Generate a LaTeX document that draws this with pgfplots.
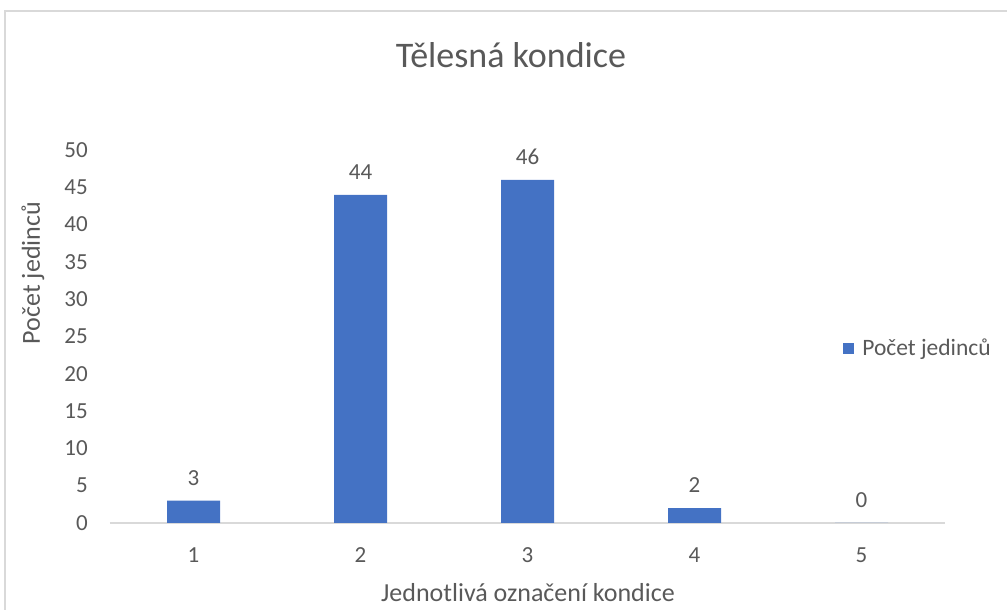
\documentclass[border=0pt]{standalone}
\usepackage{pgfplots}
\pgfplotsset{compat=1.18}
\usepackage{fontspec}
\setmainfont{Carlito}
\definecolor{barblue}{HTML}{4472C4}
\definecolor{txtgray}{HTML}{595959}
\definecolor{linegray}{HTML}{D9D9D9}
\begin{document}
\begin{tikzpicture}[x=1pt,y=1pt]
\useasboundingbox (0,0) rectangle (1007,610);
\draw[linegray, line width=2pt] (5,-5) -- (5,599) -- (1012,599);
\begin{axis}[
  at={(110pt,87pt)}, anchor=south west,
  scale only axis, width=835pt, height=373pt,
  xmin=0.5, xmax=5.5, ymin=0, ymax=50,
  xtick={1,2,3,4,5}, ytick={0,5,...,50},
  axis x line*=bottom, axis y line*=left,
  x axis line style={draw=linegray, line width=1.5pt, -},
  y axis line style={draw=none},
  major tick length=0pt,
  tick label style={font=\fontsize{23}{28}\selectfont, text=txtgray},
  /pgf/number format/assume math mode=true,
  xticklabel style={anchor=center, yshift=-32pt},
  yticklabel style={anchor=east, inner sep=0pt, xshift=-22pt},
  ybar, bar width=53pt, bar shift=0pt,
  nodes near coords,
  nodes near coords style={font=\fontsize{23}{28}\selectfont, text=txtgray, anchor=south, inner sep=0pt, yshift=15pt},
  legend style={at={(rel axis cs:0.878,0.469)}, anchor=west, draw=none, fill=none, inner sep=0pt, font=\fontsize{23.5}{28}\selectfont, text=txtgray, cells={anchor=west}, /tikz/every odd column/.append style={column sep=6pt}},
  legend image code/.code={\fill[barblue] (0pt,-5.5pt) rectangle (11pt,5.5pt);},
]
\addplot[fill=barblue, draw=none] coordinates {(1,3) (2,44) (3,46) (4,2) (5,0)};
\addlegendentry{Počet jedinců}
\end{axis}
\node[text=txtgray, font=\fontsize{36}{42}\selectfont] at (511,555) {Tělesná kondice};
\node[text=txtgray, font=\fontsize{26}{31}\selectfont] at (528,17) {Jednotlivá označení kondice};
\node[text=txtgray, font=\fontsize{26}{31}\selectfont, rotate=90] at (33,337) {Počet jedinců};
\end{tikzpicture}
\end{document}
